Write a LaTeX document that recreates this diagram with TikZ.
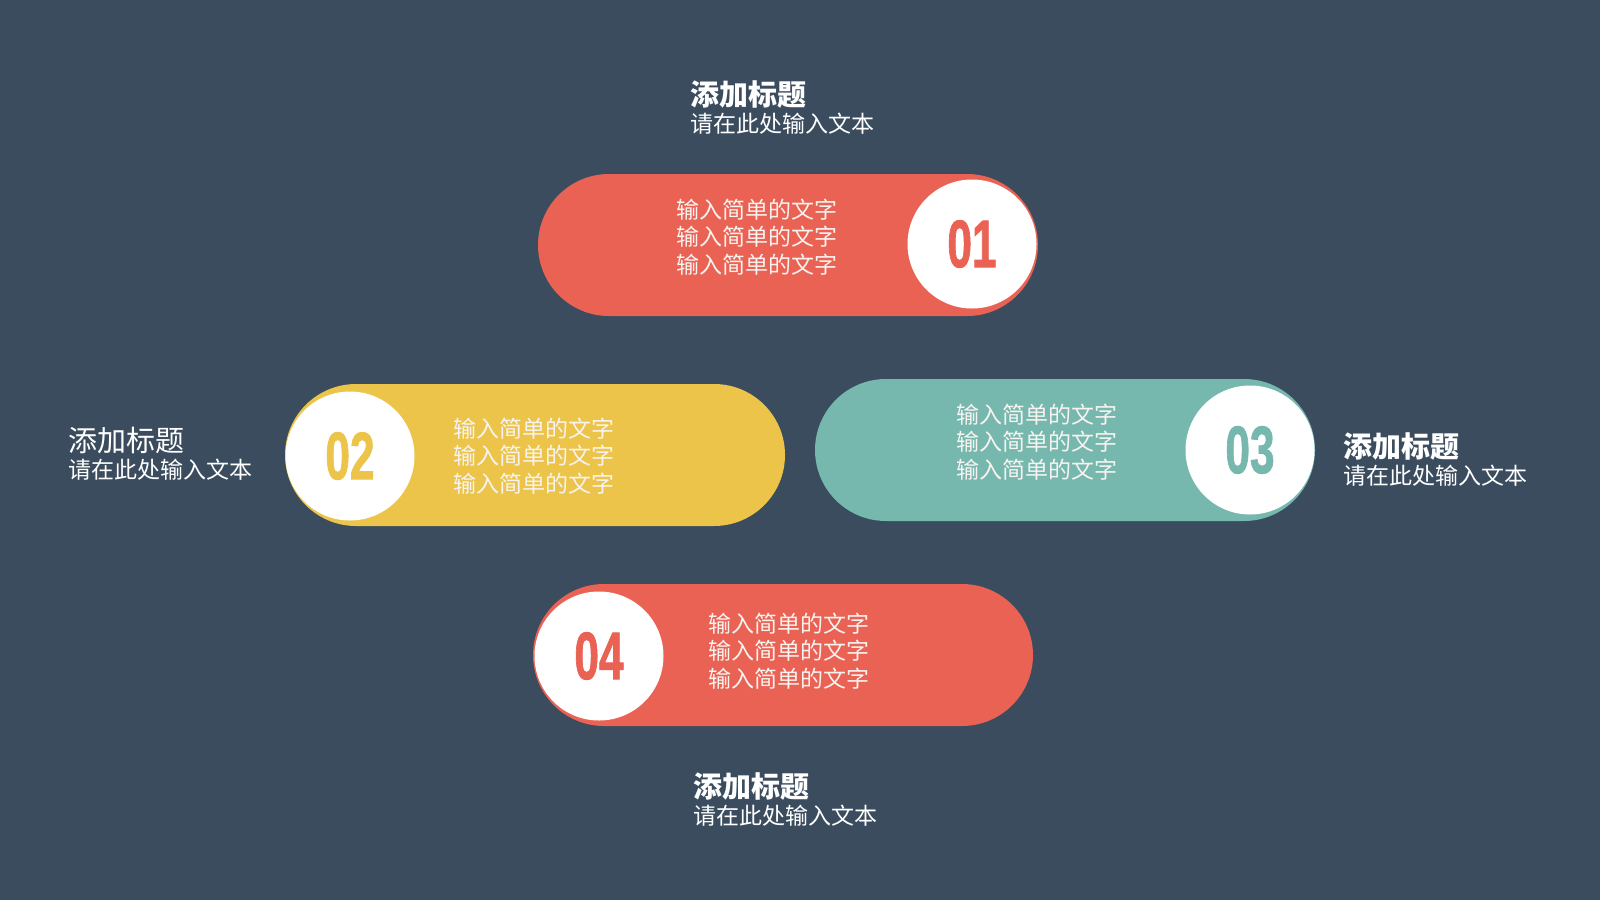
\documentclass[tikz,border=0pt]{standalone}
\usepackage{fontspec}
\usepackage{graphicx}
\usetikzlibrary{positioning,shapes.misc}
\newfontfamily\cjk{Noto Sans CJK SC}
\newfontfamily\numfont{Liberation Sans}[BoldFeatures={FakeBold=1.5}]
\definecolor{bgslate}{HTML}{3A4C5E}
\definecolor{coral}{HTML}{E96254}
\definecolor{mustard}{HTML}{ECC44A}
\definecolor{seagreen}{HTML}{77B8AE}
\definecolor{paper}{HTML}{F7F3F0}

\begin{document}
\begin{tikzpicture}[x=1pt,y=-1pt,
  pill/.style={rounded rectangle,minimum width=500pt,minimum height=142pt,inner sep=0pt},
  disc/.style={circle,fill=white,minimum size=129pt,inner sep=0pt},
  rim/.style={circle,minimum size=127pt,inner sep=0pt},
  body/.style={text=paper,align=center,inner sep=0pt,font=\cjk\fontsize{23}{27.5}\selectfont},
  num/.style={inner sep=0pt,font=\numfont\bfseries\fontsize{67}{67}\selectfont},
  headline/.style={anchor=west,text=white,inner sep=0pt,font=\cjk\bfseries\fontsize{29}{32}\selectfont},
  plainhead/.style={anchor=west,text=white,inner sep=0pt,font=\cjk\fontsize{29}{32}\selectfont},
  subline/.style={text=white,inner sep=0pt,font=\cjk\fontsize{23}{26}\selectfont}]
%фон
\fill[bgslate] (0,0) rectangle (1600,900);
\useasboundingbox (0,0) rectangle (1600,900);
%блок 01
\node[pill,fill=coral] (p1) at (788,245) {};
\node[rim,fill=coral] at (973,247) {};
\node[disc] (c1) at (972,244) {};
\node[body] (b1) at (757,237) {输入简单的文字\\输入简单的文字\\输入简单的文字};
\node[num,text=coral] (n1) at (c1) {\scalebox{0.66}[1]{01}};
\node[headline] (t1) at (690,94) {添加标题};
\node[subline,below right=5pt and 0pt of t1.south west] (s1) {请在此处输入文本};
%блок 02
\node[pill,fill=mustard] (p2) at (535,455) {};
\node[rim,fill=mustard] at (350,459) {};
\node[disc] (c2) at (350,456) {};
\node[body] (b2) at (534,456) {输入简单的文字\\输入简单的文字\\输入简单的文字};
\node[num,text=mustard] (n2) at (c2) {\scalebox{0.66}[1]{02}};
\node[plainhead] (t2) at (68,440) {添加标题};
\node[subline,below right=5pt and 0pt of t2.south west] (s2) {请在此处输入文本};
%блок 03
\node[pill,fill=seagreen] (p3) at (1065,450) {};
\node[rim,fill=seagreen] at (1250,453) {};
\node[disc] (c3) at (1250,450) {};
\node[body] (b3) at (1037,442) {输入简单的文字\\输入简单的文字\\输入简单的文字};
\node[num,text=seagreen] (n3) at (c3) {\scalebox{0.66}[1]{03}};
\node[headline] (t3) at (1343,446) {添加标题};
\node[subline,below right=5pt and 0pt of t3.south west] (s3) {请在此处输入文本};
%блок 04
\node[pill,fill=coral] (p4) at (783,655) {};
\node[rim,fill=coral] at (599,659) {};
\node[disc] (c4) at (599,656) {};
\node[body] (b4) at (789,651) {输入简单的文字\\输入简单的文字\\输入简单的文字};
\node[num,text=coral] (n4) at (c4) {\scalebox{0.66}[1]{04}};
\node[headline] (t4) at (693,786) {添加标题};
\node[subline,below right=5pt and 0pt of t4.south west] (s4) {请在此处输入文本};
\end{tikzpicture}
\end{document}
